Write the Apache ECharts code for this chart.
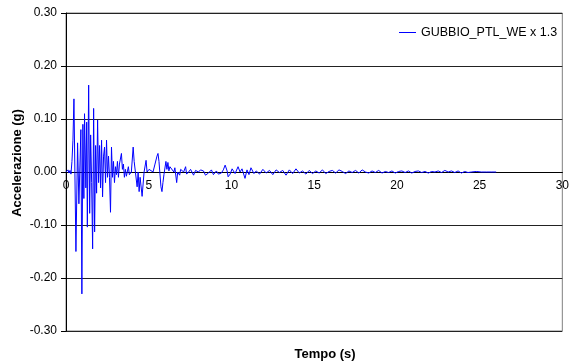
<!DOCTYPE html>
<html>
<head>
<meta charset="utf-8">
<script src="https://cdn.jsdelivr.net/npm/echarts@6/dist/echarts.min.js"></script>
<style>
    html, body { margin: 0; padding: 0; background: #fff; }
    #chart { width: 572px; height: 361px; }
</style>
</head>
<body>
<div id="chart"></div>
<script>
// accelerogramma: [tempo (s), accelerazione (g)]
var faseForte = [
    [0, 0], [0.06, 0.002], [0.12, 0.004], [0.18, -0.002], [0.24, 0.003], [0.30, -0.004],
    [0.36, 0.02], [0.42, 0.06], [0.48, 0.138], [0.60, -0.15], [0.70, 0.055], [0.78, -0.06],
    [0.90, 0.08], [0.96, -0.23], [1.02, 0.09], [1.08, -0.05], [1.12, 0.11], [1.20, -0.03],
    [1.25, 0.094], [1.29, -0.104], [1.37, 0.164], [1.43, -0.078], [1.49, 0.07], [1.55, -0.02],
    [1.61, -0.145], [1.67, 0.12], [1.73, -0.113], [1.79, 0.05], [1.85, -0.04], [1.91, 0.098],
    [1.97, -0.02], [2.03, 0.05], [2.09, -0.03], [2.15, 0.06], [2.21, -0.047], [2.27, 0.03],
    [2.33, 0.047], [2.39, -0.02], [2.45, 0.06], [2.51, -0.01], [2.57, 0.03], [2.63, -0.01],
    [2.69, -0.076], [2.75, 0.047], [2.81, -0.01], [2.87, 0.02], [2.93, -0.02], [2.99, 0.01],
    [3.05, -0.005], [3.11, 0.02], [3.17, -0.01], [3.23, 0.015], [3.35, 0.035], [3.41, 0.005],
    [3.47, 0.015], [3.53, -0.01], [3.59, 0.005], [3.65, -0.008], [3.77, 0.01], [3.83, -0.005],
    [3.95, 0.0], [4.06, 0.047], [4.12, 0.02], [4.24, 0.017], [4.30, -0.028], [4.36, 0.0],
    [4.42, -0.037], [4.48, -0.01], [4.60, -0.046], [4.72, 0.0], [4.84, 0.022], [4.90, 0.0],
    [5.02, 0.005], [5.14, 0.008], [5.26, 0.0], [5.38, 0.015], [5.50, 0.03], [5.56, 0.035],
    [5.62, 0.02], [5.74, -0.028], [5.80, -0.037], [5.86, -0.02], [5.92, -0.005], [6.04, 0.02],
    [6.10, 0.005], [6.16, 0.018], [6.22, 0.002], [6.28, 0.01], [6.40, 0.012], [6.52, 0.0],
    [6.58, 0.008], [6.69, -0.02], [6.75, 0.0], [6.87, -0.006], [6.93, 0.005], [7.05, 0.006],
    [7.11, 0.0], [7.23, 0.01], [7.29, -0.004], [7.41, 0.0], [7.53, 0.005], [7.71, -0.006],
    [7.83, 0.003], [8.01, 0.0], [8.13, 0.004], [8.31, 0.002], [8.43, -0.006], [8.61, -0.002],
    [8.79, 0.004], [8.91, -0.005], [9.09, 0.002], [9.21, -0.004], [9.39, -0.002], [9.51, 0.004],
    [9.62, 0.013], [9.74, 0.002], [9.80, -0.009], [9.92, -0.004], [10.04, 0.006], [10.22, -0.003],
    [10.40, 0.01], [10.52, 0.0], [10.64, 0.006], [10.82, -0.012], [10.94, 0.004], [11.06, -0.005],
    [11.18, 0.008], [11.36, -0.003]
];

var faseCoda = [
    [11.5, 0.002], [11.7, -0.004], [11.9, 0.005], [12.1, -0.002], [12.3, 0.003], [12.5, -0.005],
    [12.7, 0.004], [12.9, -0.001], [13.1, 0.003], [13.3, -0.006], [13.5, 0.004], [13.7, -0.003],
    [13.9, 0.006], [14.1, -0.002], [14.3, 0.002], [14.5, -0.004], [14.7, 0.003], [14.9, -0.003],
    [15.1, 0.002], [15.3, -0.002], [15.5, 0.004], [15.7, -0.003], [15.9, 0.001], [16.1, 0.003],
    [16.3, -0.002], [16.5, 0.004], [16.7, 0.001], [16.9, -0.003], [17.1, 0.002], [17.3, -0.001],
    [17.5, 0.003], [17.7, -0.002], [17.9, 0.004], [18.1, 0.0], [18.3, -0.002], [18.5, 0.002],
    [18.7, -0.001], [18.9, 0.003], [19.1, -0.002], [19.3, 0.001], [19.5, -0.001], [19.7, 0.002],
    [19.9, -0.002], [20.1, 0.001], [20.3, 0.002], [20.5, -0.001], [20.7, 0.002], [20.9, -0.002],
    [21.1, 0.001], [21.3, 0.002], [21.5, -0.001], [21.7, 0.001], [21.9, -0.002], [22.1, 0.001],
    [22.3, 0.0], [22.5, 0.002], [22.7, -0.001], [22.9, 0.003], [23.1, 0.0], [23.3, 0.002],
    [23.5, -0.001], [23.7, 0.002], [23.9, -0.002], [24.1, 0.001], [24.3, -0.001], [24.5, 0.0],
    [24.8, 0.001], [25.1, 0.0], [25.4, 0.0], [25.7, 0.0], [26.0, 0.0]
];

var nomeSerie = 'GUBBIO_PTL_WE x 1.3';

var chart = echarts.init(document.getElementById('chart'));
var font = 'Liberation Sans, Arial, sans-serif';

var option = {
    animation: false,
    textStyle: { fontFamily: font },
    title: {
        text: 'Tempo (s)',
        left: 320,
        top: 343,
        textAlign: 'center',
        textStyle: { fontFamily: font, fontSize: 13, fontWeight: 'bold', color: '#000' }
    },
    graphic: [{
        type: 'text',
        x: 17,
        y: 163,
        rotation: Math.PI / 2,
        style: {
            text: 'Accelerazione (g)',
            fontFamily: font,
            fontSize: 13,
            fontWeight: 'bold',
            fill: '#000',
            align: 'center',
            verticalAlign: 'middle'
        }
    }],
    legend: {
        left: 394,
        top: 21,
        icon: 'rect',
        itemWidth: 17,
        itemHeight: 1,
        itemGap: 5,
        textStyle: { fontFamily: font, fontSize: 12.5, color: '#000' },
        data: [nomeSerie]
    },
    grid: {
        left: 66,
        right: 4,
        top: 13,
        bottom: 30,
        show: true,
        borderColor: '#808080',
        borderWidth: 1
    },
    xAxis: {
        type: 'value',
        min: 0,
        max: 30,
        interval: 5,
        // asse disegnato sulla linea dello zero (metà dell'area, 318 px di altezza)
        offset: -159,
        axisLine: { onZero: false, lineStyle: { color: '#000', width: 1 } },
        axisTick: { show: false },
        axisLabel: { color: '#000', fontSize: 12, fontFamily: font, margin: 8 },
        splitLine: { show: false }
    },
    yAxis: {
        type: 'value',
        min: -0.3,
        max: 0.3,
        interval: 0.1,
        axisLine: { show: true, onZero: false, lineStyle: { color: '#000', width: 1 } },
        axisTick: { show: true, length: 5, lineStyle: { color: '#000' } },
        axisLabel: {
            color: '#000',
            fontSize: 12,
            fontFamily: font,
            margin: 9,
            formatter: function (v) { return v.toFixed(2); }
        },
        splitLine: { show: true, lineStyle: { color: '#222', width: 1 } }
    },
    series: [{
        name: nomeSerie,
        type: 'line',
        data: faseForte.concat(faseCoda),
        showSymbol: false,
        color: '#0000ff',
        lineStyle: { color: '#0000ff', width: 1 }
    }]
};

chart.setOption(option);
</script>
</body>
</html>
